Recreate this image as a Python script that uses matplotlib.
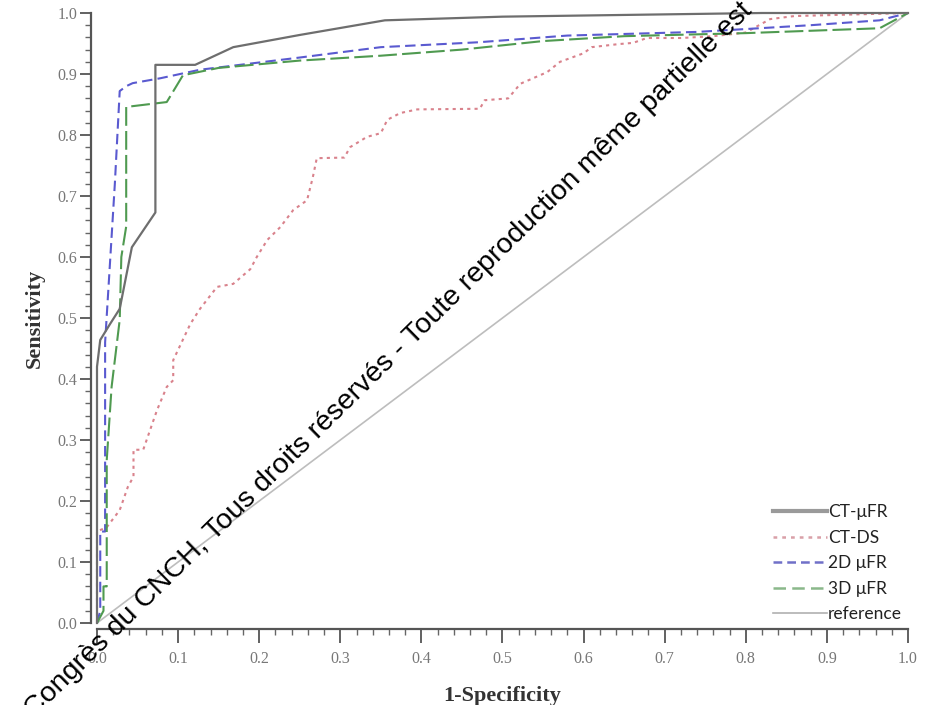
import matplotlib
matplotlib.use("Agg")
import matplotlib.pyplot as plt
from matplotlib.ticker import MultipleLocator

# ---- data ----
ct_ufr_x = [0, 0, 0.004, 0.016, 0.028, 0.043, 0.072, 0.072, 0.121, 0.168, 0.25, 0.355, 0.50, 0.82, 1.0]
ct_ufr_y = [0, 0.42, 0.464, 0.49, 0.515, 0.616, 0.673, 0.915, 0.915, 0.944, 0.964, 0.988, 0.994, 1.0, 1.0]

ct_ds_x = [0, 0, 0.012, 0.028, 0.038, 0.045, 0.045, 0.057, 0.074, 0.086, 0.094, 0.094,
           0.115, 0.127, 0.148, 0.168, 0.189, 0.197, 0.210, 0.226, 0.242, 0.259, 0.266, 0.271,
           0.305, 0.312, 0.333, 0.350, 0.358, 0.374, 0.395, 0.472, 0.478, 0.507, 0.522, 0.555,
           0.571, 0.600, 0.610, 0.643, 0.661, 0.678, 0.72, 0.76, 0.80, 0.83, 0.86, 1.0]
ct_ds_y = [0, 0.15, 0.157, 0.185, 0.223, 0.24, 0.284, 0.284, 0.349, 0.387, 0.398, 0.431,
           0.490, 0.515, 0.551, 0.556, 0.580, 0.600, 0.628, 0.649, 0.677, 0.693, 0.730, 0.762,
           0.763, 0.780, 0.797, 0.803, 0.825, 0.836, 0.842, 0.843, 0.857, 0.860, 0.884, 0.903,
           0.920, 0.934, 0.944, 0.949, 0.951, 0.959, 0.959, 0.962, 0.968, 0.99, 0.995, 1.0]

ufr2d_x = [0, 0.004, 0.004, 0.010, 0.010, 0.022, 0.028, 0.036, 0.044, 0.078, 0.127, 0.25, 0.35,
           0.47, 0.58, 0.74, 0.88, 0.965, 1.0]
ufr2d_y = [0, 0.02, 0.15, 0.15, 0.46, 0.72, 0.872, 0.880, 0.885, 0.893, 0.907, 0.927, 0.944,
           0.952, 0.963, 0.969, 0.980, 0.988, 1.0]

ufr3d_x = [0, 0.008, 0.008, 0.012, 0.012, 0.018, 0.028, 0.030, 0.036, 0.036, 0.086,
           0.106, 0.15, 0.25, 0.35, 0.45, 0.55, 0.65, 0.80, 0.965, 1.0]
ufr3d_y = [0, 0.02, 0.06, 0.06, 0.267, 0.387, 0.497, 0.60, 0.65, 0.846, 0.854,
           0.898, 0.910, 0.922, 0.930, 0.940, 0.954, 0.962, 0.967, 0.975, 1.0]

ref_x = [0, 1]
ref_y = [0, 1]

x_ticks = [0.0, 0.1, 0.2, 0.3, 0.4, 0.5, 0.6, 0.7, 0.8, 0.9, 1.0]
y_ticks = [0.0, 0.1, 0.2, 0.3, 0.4, 0.5, 0.6, 0.7, 0.8, 0.9, 1.0]
series_labels = ["CT-\u03bcFR", "CT-DS", "2D \u03bcFR", "3D \u03bcFR", "reference"]
watermark = "Congr\u00e8s du CNCH, Tous droits r\u00e9serv\u00e9s - Toute reproduction m\u00eame partielle est"

# ---- figure ----
fig = plt.figure(figsize=(9.37, 7.05), dpi=100)
fig.patch.set_facecolor("white")

ax = fig.add_axes([97 / 937, 1 - 623 / 705, 811 / 937, 610 / 705])
ax.set_facecolor("none")

ax.plot(ct_ufr_x, ct_ufr_y, color="#6e6e6e", lw=1.6, ls="-", clip_on=False, zorder=5)
ax.plot(ct_ds_x, ct_ds_y, color="#d9828c", lw=1.5, ls=(0, (1.5, 2.0)), clip_on=False, zorder=4)
ax.plot(ufr2d_x, ufr2d_y, color="#5a5ad0", lw=1.5, ls=(0, (5, 2.5)), clip_on=False, zorder=4)
ax.plot(ufr3d_x, ufr3d_y, color="#4f9a50", lw=1.5, ls=(0, (9, 2.5)), clip_on=False, zorder=4)
ax.plot(ref_x, ref_y, color="#bdbdbd", lw=1.2, ls="-", clip_on=False, zorder=3)

ax.set_xlim(0, 1)
ax.set_ylim(0, 1)
ax.spines["top"].set_visible(False)
ax.spines["right"].set_visible(False)
for s in ("left", "bottom"):
    ax.spines[s].set_position(("outward", 4))
    ax.spines[s].set_color("#555555")
    ax.spines[s].set_linewidth(1.6)

ax.set_xticks(x_ticks)
ax.set_yticks(y_ticks)
ax.set_xticklabels([f"{v:.1f}" for v in x_ticks])
ax.set_yticklabels([f"{v:.1f}" for v in y_ticks])
ax.xaxis.set_minor_locator(MultipleLocator(0.02))
ax.yaxis.set_minor_locator(MultipleLocator(0.02))
ax.tick_params(which="major", direction="out", width=1.3, color="#555555",
               labelsize=11.5, labelcolor="#777777")
ax.tick_params(axis="x", which="major", length=10, pad=6)
ax.tick_params(axis="y", which="major", length=8, pad=2)
ax.tick_params(which="minor", direction="out", length=4, width=1.0, color="#666666")
for lab in ax.get_xticklabels() + ax.get_yticklabels():
    lab.set_family("Liberation Serif")

ax.set_xlabel("1-Specificity", family="Liberation Serif", fontweight="bold",
              fontsize=16, color="#333333", labelpad=14)
ax.set_ylabel("Sensitivity", family="Liberation Serif", fontweight="bold",
              fontsize=16, color="#333333", labelpad=9)

# legend
leg_handles = [plt.Line2D([], [], color="#9a9a9a", lw=3.0, ls="-"),
               plt.Line2D([], [], color="#d9a0a8", lw=1.8, ls=(0, (1.5, 2.0))),
               plt.Line2D([], [], color="#7070c8", lw=1.8, ls=(0, (3.5, 2.0))),
               plt.Line2D([], [], color="#8ab88a", lw=1.8, ls=(0, (5, 2.5))),
               plt.Line2D([], [], color="#b0b0b0", lw=1.2, ls="-")]
leg = ax.legend(leg_handles, series_labels, loc="lower right", bbox_to_anchor=(1.005, -0.016),
                frameon=False, handlelength=3.1, handletextpad=0.05, labelspacing=0.55,
                prop={"family": "Lato", "size": 12.5}, borderaxespad=0.2)
for t in leg.get_texts():
    t.set_color("#222222")

# overlaid watermark text
fig.text(0.415, 0.489, watermark, fontsize=20.5, color="black", rotation=44.5,
         rotation_mode="anchor", ha="center", va="center", family="Liberation Sans", zorder=10)

fig.savefig("out.png", dpi=100, facecolor="white")
